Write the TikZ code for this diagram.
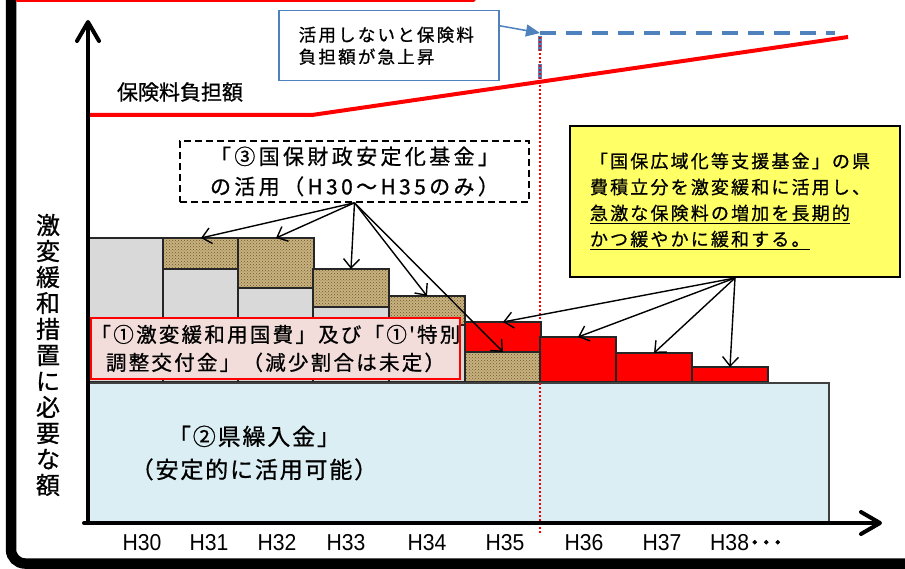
\documentclass[tikz,border=0pt]{standalone}
\usepackage{fontspec}
\usepackage{graphicx}
\usetikzlibrary{arrows.meta,patterns,calc}
\newfontfamily\jp{Noto Sans CJK JP}[FakeBold=0.8]
\newfontfamily\jpb{Noto Sans CJK JP}[FakeBold=3]
\newfontfamily\lsans{Liberation Sans}
\newcommand{\jpfont}[3]{\jp\fontsize{#1}{#2}\selectfont\addfontfeature{LetterSpace=#3}}
\newsavebox{\ulxbox}
\newcommand{\ulx}[1]{\sbox{\ulxbox}{#1}\leavevmode\rlap{\rule[-4.5pt]{\wd\ulxbox}{1.8pt}}\usebox{\ulxbox}}
\definecolor{barline}{RGB}{38,38,38}
\definecolor{grayfill}{RGB}{217,217,217}
\definecolor{tanfill}{RGB}{200,178,128}
\definecolor{tandark}{RGB}{110,84,40}
\definecolor{basefill}{RGB}{218,238,243}
\definecolor{baseedge}{RGB}{64,64,64}
\definecolor{pinkfill}{RGB}{242,221,218}
\definecolor{noteblue}{RGB}{79,129,189}
\definecolor{noteyellow}{RGB}{255,255,102}
\begin{document}
\begin{tikzpicture}[x=1pt,y=-1pt,
  bar/.style={draw=barline,line width=1.3pt,minimum width=76pt,inner sep=0pt,outer sep=0pt,anchor=south west},
  graybar/.style={bar,fill=grayfill},
  hatchbar/.style={bar,preaction={fill=tanfill},pattern=crosshatch dots,pattern color=tandark},
  redbar/.style={bar,fill=red},
  ptr/.style={-{Straight Barb[length=9pt,width=16pt]},line width=1.4pt},
  yearlbl/.style={font=\lsans\fontsize{23}{23}\selectfont,inner sep=0pt,anchor=center},
  axis/.style={line width=4pt,line cap=round,line join=round},
]
\useasboundingbox (0,0) rectangle (905,569);
\fill[white] (0,0) rectangle (905,569);
% outer frame
\draw[line width=10.5pt,rounded corners=14pt] (11,-20) -- (11,563.5) -- (940,563.5);
\draw[red,line width=3pt,line cap=round] (17,0.3) -- (474,0.3);
% premium line
\draw[red,line width=4pt] (88,115) -- (312,115) -- (848,37);
% dashed blue jump
\coordinate (jump) at (540,33);
\draw[noteblue,line width=4.5pt,dash pattern=on 16pt off 10pt] (jump) -- (835,33);
\draw[noteblue,line width=4.5pt,dash pattern=on 15pt off 13pt] (540,36) -- (540,80);
% red dotted divider
\draw[red,line width=1.8pt,dash pattern=on 2pt off 2pt] (540,37) -- (540,382);
% bars
\node[graybar,minimum height=144pt] (g0) at (87,382) {};
\node[graybar,minimum height=113pt] (g1) at (163,382) {};
\node[graybar,minimum height=94pt] (g2) at (238,382) {};
\node[graybar,minimum height=75pt] (g3) at (313,382) {};
\node[graybar,minimum height=57pt] (g4) at (389,382) {};
\node[hatchbar,minimum height=31pt] (h1) at (163,269) {};
\node[hatchbar,minimum height=50pt] (h2) at (238,288) {};
\node[hatchbar,minimum height=38pt] (h3) at (313,307) {};
\node[hatchbar,minimum height=29pt] (h4) at (389,325) {};
\node[hatchbar,minimum height=30pt] (h5) at (465,382) {};
\node[redbar,minimum height=30pt] (r5) at (465,352) {};
\node[redbar,minimum height=45pt] (r6) at (540,382) {};
\node[redbar,minimum height=29pt] (r7) at (616,382) {};
\node[redbar,minimum height=15pt] (r8) at (692,382) {};
% base block
\node[draw=baseedge,fill=basefill,line width=2pt,minimum width=741pt,minimum height=140pt,anchor=north west,inner sep=0pt] (base) at (87,382) {};
\node[align=center,inner sep=0pt,font=\jpfont{23}{33}{8}] (basetext) at (254,453) {「②県繰入金」\\（安定的に活用可能）};
\draw[red,line width=1.8pt,dash pattern=on 2pt off 2pt] (540,383) -- (540,533);
% pink label
\node[draw=red,fill=pinkfill,line width=1.8pt,minimum width=367pt,minimum height=61pt,inner sep=0pt,align=center,font=\jpfont{20.5}{28}{11}] (lbl1) at (275.5,348.5) {「①激変緩和用国費」及び「①'特別\\調整交付金」（減少割合は未定）};
% axes
\draw[axis] (84,523) -- (878,523);
\draw[axis] (861,512) -- (880,523) -- (861,534);
\draw[axis] (88,523) -- (88,23);
\draw[axis] (77,41) -- (88,22) -- (99,41);
% year labels
\foreach \x/\t in {142/H30,209/H31,277/H32,346/H33,427/H34,505/H35,584/H36,662/H37}
  \node[yearlbl] (y\t) at (\x,543) {\scalebox{0.92}[1]{\t}};
\node[yearlbl,anchor=west] (yH38) at (710,543) {\scalebox{0.92}[1]{H38}{\jpb ･･･}};
% premium label
\node[font=\jpfont{21}{21}{0},inner sep=0pt] (prem) at (180,92) {保険料負担額};
% callout
\node[draw=noteblue,line width=1.5pt,fill=white,text width=180pt,inner xsep=20pt,minimum height=70pt,align=left,font=\jpfont{17.5}{22}{12.6},anchor=north west] (callout) at (278,10) {活用しないと保険料\\負担額が急上昇};
\draw[noteblue,line width=1.5pt,-{Triangle[length=14pt,width=12pt]}] ($(callout.north east)!0.22!(callout.south east)$) -- (jump);
% fund 3 box
\node[draw,line width=1.5pt,dash pattern=on 7pt off 4pt,fill=white,minimum width=349pt,minimum height=61pt,inner sep=0pt,align=center,font=\jpfont{21}{30}{16}] (fund3) at (354.5,171.5) {「③国保財政安定化基金」\\の活用（H30～H35のみ）};
% fund 4 box
\node[draw=black,line width=2pt,fill=noteyellow,text width=290pt,inner xsep=20pt,minimum height=151pt,align=left,font=\jpfont{18}{26}{12}] (fund4) at (735,201.5) {「国保広域化等支援基金」の県\\費積立分を激変緩和に活用し、\\\ulx{急激な保険料の増加を長期的}\\\ulx{かつ緩やかに緩和する。}};
% pointers
\draw[ptr] (fund3.south) -- (h1.north);
\draw[ptr] (fund3.south) -- (h2.north);
\draw[ptr] (fund3.south) -- (h3.north);
\draw[ptr] (fund3.south) -- (h4.north);
\draw[ptr] (fund3.south) -- (h5.north);
\draw[ptr] (fund4.south) -- (r5.north);
\draw[ptr] (fund4.south) -- (r6.north);
\draw[ptr] (fund4.south) -- (r7.north);
\draw[ptr] (fund4.south) -- (r8.north);
% vertical label
\node[align=center,inner sep=0pt,font=\jpfont{24}{26}{0}] (ylab) at (48,355) {激\\変\\緩\\和\\措\\置\\に\\必\\要\\な\\額};
\end{tikzpicture}
\end{document}
